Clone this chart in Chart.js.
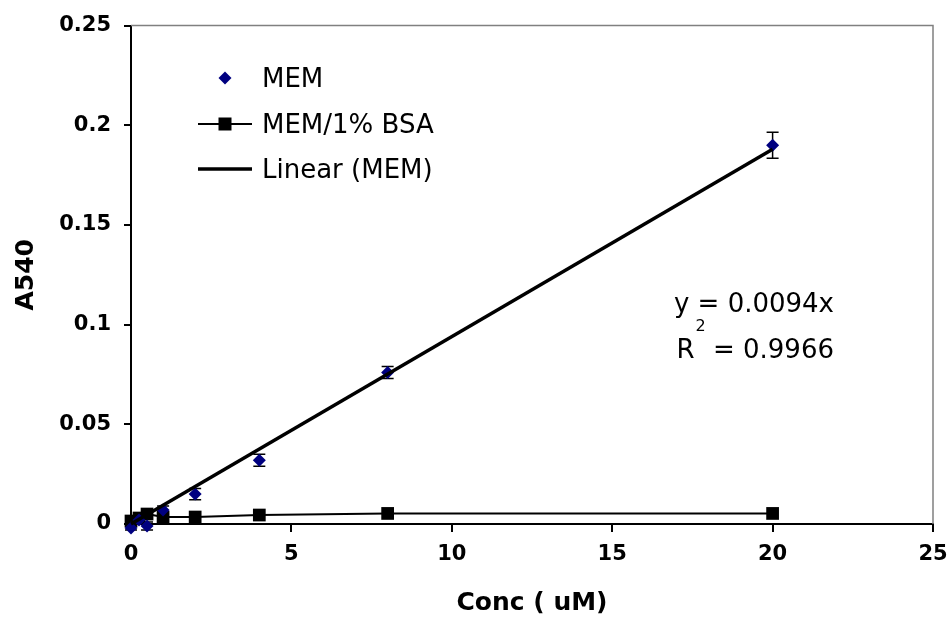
<!DOCTYPE html>
<html>
<head>
<meta charset="utf-8">
<script src="https://cdn.jsdelivr.net/npm/chart.js@4.4.0/dist/chart.umd.min.js"></script>
<style>
  html, body { margin: 0; padding: 0; background: #fff; }
  #wrap { width: 951px; height: 630px; }
</style>
</head>
<body>
<div id="wrap"><canvas id="absChart" width="951" height="630"></canvas></div>
<script>
// Absorbance at 540 nm vs concentration, with and without BSA
const concentrations = [0, 0.25, 0.5, 1, 2, 4, 8, 20];
const memAbs = [-0.002, 0.002, -0.001, 0.007, 0.015, 0.032, 0.076, 0.190];
const memErr = [0.001, 0.001, 0.002, 0.002, 0.0028, 0.003, 0.003, 0.0065];
const bsaAbs = [0.0015, 0.003, 0.005, 0.0035, 0.0035, 0.0045, 0.0053, 0.0053];

// Linear fit through origin for MEM
const trendSlope = 0.0094;
const trendR2 = 0.9966;
const trendRange = [0, 20];

const xTickLabels = ["0", "5", "10", "15", "20", "25"];
const yTickLabels = ["0", "0.05", "0.1", "0.15", "0.2", "0.25"];

const seriesNames = ["MEM", "MEM/1% BSA", "Linear (MEM)"];
const memColor = "#000080";

Chart.defaults.font.family = "'DejaVu Sans', sans-serif";
Chart.defaults.color = "#000";

const toPoints = (xs, ys) => xs.map((x, i) => ({ x: x, y: ys[i] }));

// Error bars under the MEM diamonds
const errorBarPlugin = {
  id: "errorBars",
  beforeDatasetsDraw(chart) {
    const { ctx, scales } = chart;
    ctx.save();
    ctx.strokeStyle = "#000";
    ctx.lineWidth = 1.5;
    concentrations.forEach((c, i) => {
      const px = scales.x.getPixelForValue(c);
      const top = scales.y.getPixelForValue(memAbs[i] + memErr[i]);
      const bot = scales.y.getPixelForValue(memAbs[i] - memErr[i]);
      ctx.beginPath();
      ctx.moveTo(px, top); ctx.lineTo(px, bot);
      ctx.moveTo(px - 6, top); ctx.lineTo(px + 6, top);
      ctx.moveTo(px - 6, bot); ctx.lineTo(px + 6, bot);
      ctx.stroke();
    });
    ctx.restore();
  }
};

// Plot frame, in-plot legend and trendline equation
const annotationPlugin = {
  id: "annotations",
  afterDraw(chart) {
    const { ctx, chartArea } = chart;
    ctx.save();

    // grey frame on top and right of the plot area
    ctx.strokeStyle = "#808080";
    ctx.lineWidth = 1.5;
    ctx.beginPath();
    ctx.moveTo(chartArea.left, chartArea.top);
    ctx.lineTo(chartArea.right, chartArea.top);
    ctx.lineTo(chartArea.right, chartArea.bottom);
    ctx.stroke();

    ctx.font = "26px 'DejaVu Sans'";
    ctx.fillStyle = "#000";
    ctx.textBaseline = "alphabetic";
    ctx.textAlign = "left";

    // MEM: diamond
    ctx.fillStyle = memColor;
    ctx.beginPath();
    ctx.moveTo(225, 71.5); ctx.lineTo(231.5, 78); ctx.lineTo(225, 84.5); ctx.lineTo(218.5, 78);
    ctx.closePath();
    ctx.fill();
    ctx.fillStyle = "#000";
    ctx.fillText(seriesNames[0], 262, 87);

    // MEM/1% BSA: line with square
    ctx.strokeStyle = "#000";
    ctx.lineWidth = 2;
    ctx.beginPath();
    ctx.moveTo(198, 124); ctx.lineTo(252, 124);
    ctx.stroke();
    ctx.fillRect(218.5, 117.5, 13, 13);
    ctx.fillText(seriesNames[1], 262, 133);

    // Linear (MEM)
    ctx.lineWidth = 3.5;
    ctx.beginPath();
    ctx.moveTo(198, 169); ctx.lineTo(252, 169);
    ctx.stroke();
    ctx.fillText(seriesNames[2], 262, 178);

    // equation and R squared
    const right = 834;
    const eq = "y = " + trendSlope + "x";
    ctx.fillText(eq, right - ctx.measureText(eq).width, 312);
    const rest = " = " + trendR2;
    const restW = ctx.measureText(rest).width;
    const rW = ctx.measureText("R").width;
    ctx.font = "16px 'DejaVu Sans'";
    const supW = ctx.measureText("2").width;
    const rX = right - restW - supW - rW;
    ctx.fillText("2", rX + rW + 1, 331);
    ctx.font = "26px 'DejaVu Sans'";
    ctx.fillText("R", rX, 358);
    ctx.fillText(rest, right - restW, 358);

    ctx.restore();
  }
};

new Chart(document.getElementById("absChart"), {
  data: {
    datasets: [
      {
        type: "line",
        label: seriesNames[2],
        data: trendRange.map(x => ({ x: x, y: trendSlope * x })),
        borderColor: "#000",
        borderWidth: 3.5,
        pointRadius: 0,
        fill: false,
        clip: false,
        order: 0
      },
      {
        type: "scatter",
        label: seriesNames[0],
        data: toPoints(concentrations, memAbs),
        pointStyle: "rectRot",
        pointRadius: 6.5,
        backgroundColor: memColor,
        borderColor: memColor,
        borderWidth: 0,
        clip: false,
        order: 1
      },
      {
        type: "line",
        label: seriesNames[1],
        data: toPoints(concentrations, bsaAbs),
        borderColor: "#000",
        borderWidth: 2,
        pointStyle: "rect",
        pointRadius: 9,
        backgroundColor: "#000",
        pointBorderWidth: 0,
        tension: 0,
        fill: false,
        clip: false,
        order: 2
      }
    ]
  },
  options: {
    responsive: false,
    devicePixelRatio: 1,
    animation: false,
    layout: { padding: { left: 0, top: 24, right: 18, bottom: 0 } },
    plugins: {
      legend: { display: false },
      tooltip: { enabled: false }
    },
    scales: {
      x: {
        type: "linear",
        min: 0,
        max: 25,
        afterBuildTicks: s => { s.ticks = xTickLabels.map(t => ({ value: Number(t) })); },
        afterFit: s => { s.height = 106; s.paddingRight = 15; s.paddingLeft = 0; },
        ticks: {
          callback: (v, i) => xTickLabels[i],
          font: { size: 21, weight: "bold" },
          color: "#000",
          padding: 10,
          maxRotation: 0
        },
        grid: { drawOnChartArea: false, tickLength: 8, color: "#000", lineWidth: 2 },
        border: { color: "#000", width: 2 },
        title: {
          display: true,
          text: "Conc ( uM)",
          font: { size: 25, weight: "bold" },
          color: "#000",
          padding: { top: 0, bottom: 12 }
        }
      },
      y: {
        type: "linear",
        min: 0,
        max: 0.25,
        afterBuildTicks: s => { s.ticks = yTickLabels.map(t => ({ value: Number(t) })); },
        afterFit: s => { s.width = 131; },
        ticks: {
          callback: (v, i) => yTickLabels[i],
          font: { size: 21, weight: "bold" },
          color: "#000",
          padding: 13
        },
        grid: { drawOnChartArea: false, tickLength: 7, color: "#000", lineWidth: 2 },
        border: { color: "#000", width: 2 },
        title: {
          display: true,
          text: "A540",
          font: { size: 25, weight: "bold" },
          color: "#000",
          padding: { top: 11, bottom: 0 }
        }
      }
    }
  },
  plugins: [errorBarPlugin, annotationPlugin]
});
</script>
</body>
</html>
